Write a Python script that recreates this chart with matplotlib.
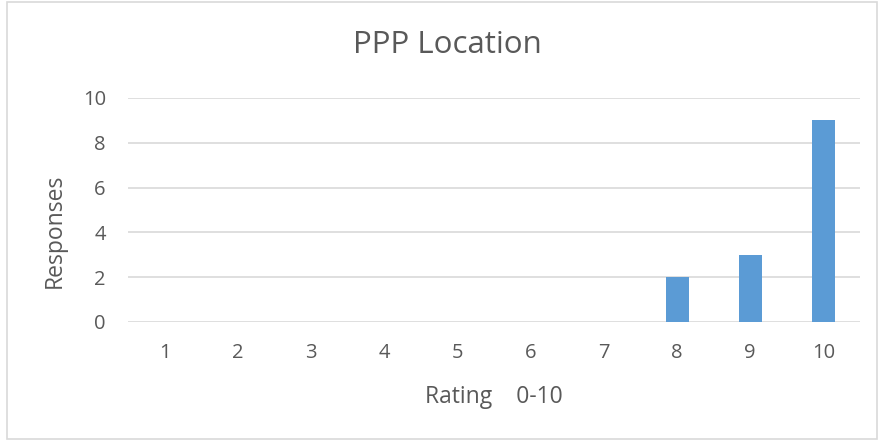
import matplotlib.pyplot as plt
from matplotlib.patches import Rectangle

plt.rcParams['font.family'] = ['Open Sans', 'DejaVu Sans']

# Data
ratings = ["1", "2", "3", "4", "5", "6", "7", "8", "9", "10"]
responses = [0, 0, 0, 0, 0, 0, 0, 2, 3, 9]
y_ticks = [0, 2, 4, 6, 8, 10]

text_color = "#595959"
grid_color = "#d9d9d9"
bar_color = "#5b9bd5"

fig = plt.figure(figsize=(8.83, 4.41), dpi=100)
ax = fig.add_axes([0.145, 0.270, 0.829, 0.508])

# Chart border
fig.patches.append(Rectangle((0.008, 0.005), 0.985, 0.99, transform=fig.transFigure,
                             fill=False, edgecolor=grid_color, linewidth=1.2))

x = list(range(len(ratings)))
ax.bar(x, responses, width=0.315, color=bar_color, zorder=3)

ax.set_xlim(-0.5, len(ratings) - 0.5)
ax.set_ylim(0, 10)
ax.set_yticks(y_ticks)
ax.set_xticks(x)
ax.set_xticklabels(ratings)

ax.grid(True, axis="y", color=grid_color, linewidth=1.2, zorder=0)
for s in ax.spines.values():
    s.set_visible(False)
ax.tick_params(length=0, labelsize=14.5, colors=text_color)
ax.tick_params(axis="x", pad=15)
ax.tick_params(axis="y", pad=16)

# title is centred on the whole chart, not the plot area
fig.text(0.507, 0.897, "PPP Location", fontsize=22.5, color=text_color,
         ha="center", va="center")
ax.set_xlabel("Rating    0-10", fontsize=16.5, color=text_color, labelpad=16)
fig.text(0.062, 0.476, "Responses", fontsize=16.5, color=text_color,
         rotation=90, ha="center", va="center")

fig.savefig("out.png", dpi=100)
